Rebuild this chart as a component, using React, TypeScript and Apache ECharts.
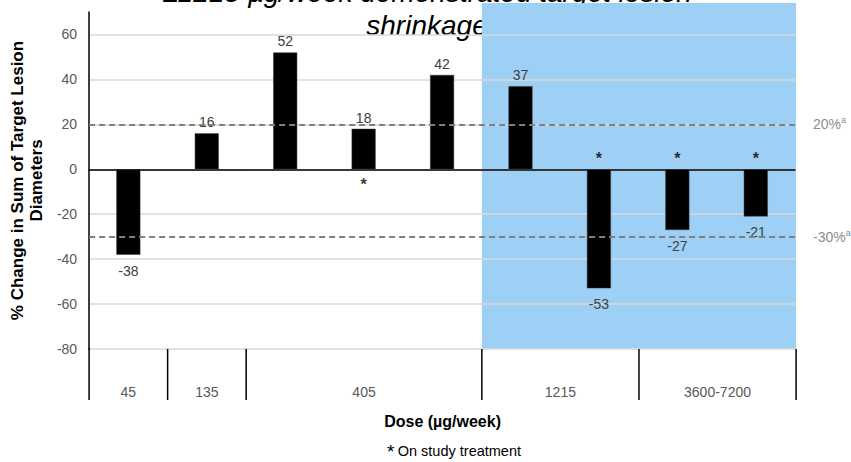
import React, { useEffect, useRef } from "react";
import * as echarts from "echarts";

const patients = ["P1", "P2", "P3", "P4", "P5", "P6", "P7", "P8", "P9"];
const values = [-38, 16, 52, 18, 42, 37, -53, -27, -21];
const onStudy = [false, false, false, true, false, false, true, true, true];
const doseGroups = ["45", "135", "405", "1215", "3600-7200"];
const doseGroupSizes = [1, 1, 3, 2, 2];
const highlightFromGroup = 3; // shaded from "1215" onwards
const refLineValues = [20, -30];
const refLineLabels = ["20%", "-30%"];
const titleLines = ["≥1215 µg/week demonstrated target lesion", "shrinkage"];
const yAxisTitle = "% Change in Sum of Target Lesion\nDiameters";
const xAxisTitle = "Dose (µg/week)";
const footnote = "On study treatment";

const FONT = "'Liberation Sans', Arial, sans-serif";
const GRID = { left: 88, right: 56, top: 12, bottom: 113 };

export default function App() {
  const ref = useRef<HTMLDivElement>(null);

  useEffect(() => {
    document.body.style.margin = "0";
    const chart = echarts.init(ref.current!, undefined, { renderer: "svg" });

    chart.setOption({
      animation: false,
      textStyle: { fontFamily: FONT },
      grid: { ...GRID, containLabel: false },
      xAxis: {
        type: "category",
        data: patients,
        axisLine: { onZero: true, lineStyle: { color: "#000", width: 1.5 } },
        axisTick: { show: false },
        axisLabel: { show: false },
        splitLine: { show: false },
      },
      yAxis: {
        type: "value",
        min: -80,
        max: 70,
        interval: 20,
        axisLine: { show: true, lineStyle: { color: "#000", width: 1.5 } },
        axisTick: { show: false },
        axisLabel: {
          color: "#595959",
          fontSize: 14,
          fontFamily: FONT,
          margin: 12,
          showMaxLabel: false,
        },
        splitLine: { show: true, showMaxLine: false, lineStyle: { color: "#d9d9d9", width: 1.5 } },
        name: yAxisTitle,
        nameLocation: "middle",
        nameRotate: 90,
        nameGap: 40,
        nameTextStyle: {
          fontFamily: FONT,
          fontSize: 17,
          fontWeight: "bold",
          color: "#000",
          lineHeight: 19,
          align: "center",
        },
      },
      series: [
        {
          type: "bar",
          z: 3,
          barWidth: 24,
          data: values.map((v) => ({
            value: v,
            label: { position: v < 0 ? "bottom" : "top", distance: v < 0 ? 9 : 4 },
          })),
          itemStyle: { color: "#000", borderColor: "#3a3a3a", borderWidth: 0.5 },
          label: {
            show: true,
            color: "#404040",
            fontSize: 14,
            fontFamily: FONT,
          },
          markLine: {
            silent: true,
            symbol: ["none", "none"],
            lineStyle: { type: [6, 4], color: "#808080", width: 2 },
            label: {
              position: "end",
              distance: 18,
              color: "#8c8c8c",
              fontSize: 14,
              fontFamily: FONT,
              rich: {
                sup: { fontSize: 9, color: "#8c8c8c", verticalAlign: "top", padding: [0, 0, 8, 0] },
              },
            },
            data: refLineValues.map((v, i) => ({
              yAxis: v,
              label: { formatter: refLineLabels[i] + "{sup|a}" },
            })),
          },
        },
        {
          type: "scatter",
          symbolSize: 0,
          z: 4,
          silent: true,
          data: values
            .map((v, i) => ({ v, i }))
            .filter((d) => onStudy[d.i])
            .map((d) => ({
              value: [d.i, 0],
              label: {
                position: d.v < 0 ? "top" : "bottom",
                distance: d.v < 0 ? 3 : 7,
              },
            })),
          label: {
            show: true,
            formatter: "*",
            color: "#000",
            fontSize: 16,
            fontWeight: "bold",
            fontFamily: FONT,
          },
        },
      ],
    });

    const gridW = 851 - GRID.left - GRID.right;
    const band = gridW / patients.length;
    const x0 = chart.convertToPixel({ xAxisIndex: 0 }, 0) - band / 2;
    const yBottom = chart.convertToPixel({ yAxisIndex: 0 }, -80);
    const tableBottom = yBottom + 51;

    const boundaries: number[] = [0];
    doseGroupSizes.forEach((s) => boundaries.push(boundaries[boundaries.length - 1] + s));
    const bx = boundaries.map((b) => x0 + b * band);

    const graphics: any[] = [];
    // title (partially hidden under the shaded area and the top edge)
    titleLines.forEach((t, i) => {
      graphics.push({
        type: "text",
        z: -20,
        x: 427,
        y: 25 - (1 - i) * 33,
        style: {
          text: t,
          fontFamily: FONT,
          fontSize: 28,
          fontStyle: "italic",
          fill: "#000",
          align: "center",
          verticalAlign: "middle",
        },
      });
    });
    // shaded area
    graphics.push({
      type: "rect",
      z: -10,
      shape: {
        x: bx[highlightFromGroup],
        y: 3,
        width: bx[bx.length - 1] - bx[highlightFromGroup],
        height: yBottom - 3,
      },
      style: { fill: "#9ecff5" },
    });
    // y axis extension and group separators
    graphics.push({
      type: "line",
      z: 5,
      shape: { x1: bx[0], y1: yBottom - 1, x2: bx[0], y2: tableBottom },
      style: { stroke: "#000", lineWidth: 1.5 },
    });
    bx.slice(1).forEach((x) => {
      graphics.push({
        type: "line",
        z: 5,
        shape: { x1: x, y1: yBottom, x2: x, y2: tableBottom },
        style: { stroke: "#000", lineWidth: 1.5 },
      });
    });
    doseGroups.forEach((g, i) => {
      graphics.push({
        type: "text",
        z: 5,
        x: (bx[i] + bx[i + 1]) / 2,
        y: yBottom + 43,
        style: {
          text: g,
          fontFamily: FONT,
          fontSize: 14,
          fill: "#595959",
          align: "center",
          verticalAlign: "middle",
        },
      });
    });
    // x axis title
    graphics.push({
      type: "text",
      z: 5,
      x: (bx[0] + bx[bx.length - 1]) / 2,
      y: 421,
      style: {
        text: xAxisTitle,
        fontFamily: FONT,
        fontSize: 16,
        fontWeight: "bold",
        fill: "#000",
        align: "center",
        verticalAlign: "middle",
      },
    });
    // footnote
    graphics.push({
      type: "text",
      z: 5,
      x: 454,
      y: 451,
      style: {
        text: "{star|*} {t|" + footnote + "}",
        fontFamily: FONT,
        align: "center",
        verticalAlign: "middle",
        rich: {
          star: { fontSize: 19, fill: "#000", fontFamily: FONT, verticalAlign: "top" },
          t: { fontSize: 14.5, fill: "#000", fontFamily: FONT },
        },
      },
    });

    chart.setOption({ graphic: graphics });

    return () => chart.dispose();
  }, []);

  return <div ref={ref} style={{ width: 851, height: 462 }} />;
}
